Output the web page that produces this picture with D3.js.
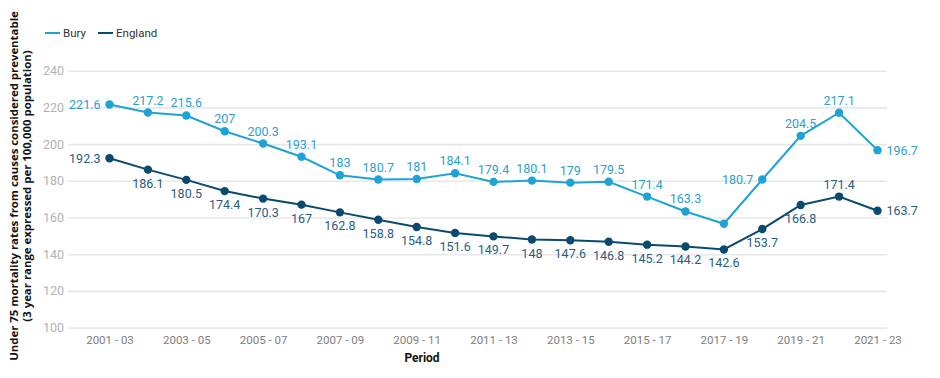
<!DOCTYPE html>
<html>
<head>
<meta charset="utf-8">
<script src="https://cdn.jsdelivr.net/npm/d3@7"></script>
<style>
  html, body { margin: 0; padding: 0; background: #fff; }
  svg { display: block; }
</style>
</head>
<body>
<svg id="chart" width="940" height="378"></svg>
<script>
const periods = ["2001 - 03","2002 - 04","2003 - 05","2004 - 06","2005 - 07","2006 - 08","2007 - 09","2008 - 10","2009 - 11","2010 - 12","2011 - 13","2012 - 14","2013 - 15","2014 - 16","2015 - 17","2016 - 18","2017 - 19","2018 - 20","2019 - 21","2020 - 22","2021 - 23"];
const buryValues = [221.6,217.2,215.6,207,200.3,193.1,183,180.7,181,184.1,179.4,180.1,179,179.5,171.4,163.3,156.6,180.7,204.5,217.1,196.7];
const englandValues = [192.3,186.1,180.5,174.4,170.3,167,162.8,158.8,154.8,151.6,149.7,148,147.6,146.8,145.2,144.2,142.6,153.7,166.8,171.4,163.7];
const xTickLabels = ["2001 - 03","2003 - 05","2005 - 07","2007 - 09","2009 - 11","2011 - 13","2013 - 15","2015 - 17","2017 - 19","2019 - 21","2021 - 23"];
const yTicks = [100,120,140,160,180,200,220,240];
const seriesNames = ["Bury","England"];

const svg = d3.select("#chart");
const x = d3.scalePoint().domain(periods).range([109.5, 877.5]);
const y = d3.scaleLinear().domain([100, 240]).range([327.6, 70.7]);

const colors = { Bury: "#1fa3d5", England: "#0b4a70" };
const labelColors = { Bury: "#2b9fd0", England: "#2a5c7e" };

// gridlines
const yAxis = d3.axisLeft(y).tickValues(yTicks).tickSize(-(887 - 68)).tickPadding(5);
const gy = svg.append("g").attr("transform", "translate(68,0)").call(yAxis);
gy.select(".domain").remove();
gy.selectAll(".tick line").attr("stroke", "#e8e8e8").attr("stroke-width", 1.6);
gy.selectAll(".tick text").attr("fill", "#b3b3b3").attr("font-family", "Roboto, sans-serif").attr("font-size", "12.5px").attr("x", -4);

// x axis
const xAxis = d3.axisBottom(x).tickValues(xTickLabels).tickSize(0).tickPadding(8);
const gx = svg.append("g").attr("transform", "translate(0,328)").call(xAxis);
gx.select(".domain").remove();
gx.selectAll(".tick text").attr("fill", "#808080").attr("font-family", "Roboto, sans-serif").attr("font-size", "11.5px");

svg.append("text").attr("x", 422).attr("y", 362).attr("text-anchor", "middle")
  .attr("font-family", "Roboto, sans-serif").attr("font-weight", "bold").attr("font-size", "12px").attr("fill", "#111").text("Period");

// y axis title
const yt = svg.append("text").attr("transform", "translate(0,186) rotate(-90)")
  .attr("text-anchor", "middle").attr("font-family", "'Open Sans', sans-serif").attr("font-weight", "bold").attr("font-size", "11.4px").attr("fill", "#111");
yt.append("tspan").attr("x", 0).attr("y", 18).text("Under 75 mortality rates from causes considered preventable");
yt.append("tspan").attr("x", 0).attr("y", 31).text("(3 year range expressed per 100,000 population)");

// legend
const legend = svg.append("g");
const legendX = [45, 98];
seriesNames.forEach((name, i) => {
  legend.append("line").attr("x1", legendX[i]).attr("x2", legendX[i] + 15).attr("y1", 33).attr("y2", 33)
    .attr("stroke", colors[name]).attr("stroke-width", 2);
  legend.append("text").attr("x", legendX[i] + 18).attr("y", 37).attr("font-family", "Roboto, sans-serif")
    .attr("font-size", "11.5px").attr("fill", "#333").text(name);
});

const line = d3.line().x((d, i) => x(periods[i])).y(d => y(d));

function drawSeries(name, values, placement) {
  const g = svg.append("g");
  g.append("path").datum(values).attr("d", line).attr("fill", "none").attr("stroke", colors[name]).attr("stroke-width", 2);
  g.selectAll("circle").data(values).enter().append("circle")
    .attr("cx", (d, i) => x(periods[i])).attr("cy", d => y(d)).attr("r", 4.2).attr("fill", colors[name]);
  const pts = values.map((v, i) => ({ v, i, p: placement(i) })).filter(d => d.p !== "none");
  g.selectAll("text").data(pts).enter().append("text")
    .each(function(d) {
      const t = d3.select(this);
      const px = x(periods[d.i]), py = y(d.v);
      t.attr("font-family", "Roboto, sans-serif").attr("font-size", "12.5px").attr("fill", labelColors[name]).text(String(d.v));
      if (d.p === "left") t.attr("x", px - 9).attr("y", py + 4.5).attr("text-anchor", "end");
      else if (d.p === "right") t.attr("x", px + 9).attr("y", py + 4.5).attr("text-anchor", "start");
      else if (d.p === "top") t.attr("x", px).attr("y", py - 8).attr("text-anchor", "middle");
      else t.attr("x", px).attr("y", py + 18).attr("text-anchor", "middle");
    });
}

const last = periods.length - 1;
drawSeries("Bury", buryValues, i => i === 0 ? "left" : i === last ? "right" : i === 16 ? "none" : i === 17 ? "left" : "top");
drawSeries("England", englandValues, i => i === 0 ? "left" : i === last ? "right" : i === 19 ? "top" : "bottom");
</script>
</body>
</html>
